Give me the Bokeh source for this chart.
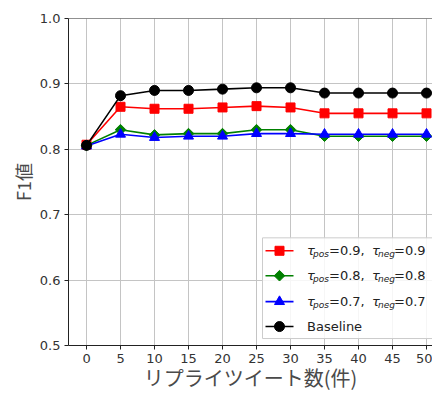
import math
from bokeh.plotting import figure
from bokeh.models import Range1d, FixedTicker, PrintfTickFormatter, Span
from bokeh.core.properties import value
from bokeh.embed import file_html
from bokeh.resources import INLINE

# ---- data ----
reply_counts = [0, 5, 10, 15, 20, 25, 30, 35, 40, 45, 50]
f1_tau09 = [0.807, 0.865, 0.862, 0.862, 0.864, 0.866, 0.864, 0.855, 0.855, 0.855, 0.855]
f1_tau08 = [0.806, 0.830, 0.822, 0.824, 0.824, 0.830, 0.830, 0.820, 0.820, 0.820, 0.820]
f1_tau07 = [0.805, 0.823, 0.818, 0.820, 0.820, 0.824, 0.824, 0.823, 0.823, 0.823, 0.823]
f1_baseline = [0.806, 0.882, 0.890, 0.890, 0.892, 0.894, 0.894, 0.886, 0.886, 0.886, 0.886]
tau_values = ["0.9", "0.8", "0.7"]
x_ticks = [0, 5, 10, 15, 20, 25, 30, 35, 40, 45, 50]
y_ticks = [0.5, 0.6, 0.7, 0.8, 0.9, 1.0]
x_label = "リプライツイート数(件)"
y_label = "F1値"

# ---- layout ----
W, H = 432, 394
BL, BT, BB, BR = 68, 18, 48, 0
X0, X1 = -2.65, 50.88
Y0, Y1 = 0.5, 1.0
FL, FR = BL, W - BR
FT, FB = BT, H - BB

def dx(cx):
    return X0 + (cx - FL) * (X1 - X0) / (FR - FL)

def dy(cy):
    return Y0 + (FB - cy) * (Y1 - Y0) / (FB - FT)

p = figure(width=W, height=H, output_backend="svg", toolbar_location=None,
           x_range=Range1d(X0, X1), y_range=Range1d(Y0, Y1),
           min_border_left=BL, min_border_top=BT, min_border_bottom=BB,
           min_border_right=BR)
p.outline_line_color = None
p.background_fill_color = "white"
p.border_fill_color = "white"

for ax in (p.xaxis[0], p.yaxis[0]):
    ax.axis_line_color = "#222222"
    ax.major_tick_line_color = "#222222"
    ax.major_tick_out = 4
    ax.major_tick_in = 0
    ax.minor_tick_line_color = None
    ax.major_label_text_font = "DejaVu Sans"
    ax.major_label_text_font_size = "13px"
    ax.major_label_text_color = "#333333"
    ax.major_label_standoff = 4
    ax.axis_label_text_font = "Noto Sans CJK JP"
    ax.axis_label_text_font_style = "normal"
    ax.axis_label_text_color = "#4a4a4a"

p.xaxis.axis_label_text_font_size = "20px"
p.yaxis.axis_label_text_font_size = "18px"
p.xaxis.ticker = FixedTicker(ticks=x_ticks)
p.yaxis.ticker = FixedTicker(ticks=y_ticks)
p.yaxis.formatter = PrintfTickFormatter(format="%.1f")
p.xaxis.axis_label = x_label
p.yaxis.axis_label = y_label
p.xaxis.axis_label_standoff = -3
p.yaxis.axis_label_standoff = 1

p.grid.grid_line_color = "#c4c4c4"
p.grid.grid_line_width = 1

# top spine
p.add_layout(Span(location=Y1, dimension="width", line_color="#222222", line_width=1))

# (values, colour, marker, size, angle)
series = [
    (f1_tau09, "#ff0000", "square", 9, 0.0),
    (f1_tau08, "#008000", "square", 7.5, math.pi / 4),
    (f1_tau07, "#0000ff", "triangle", 10, 0.0),
    (f1_baseline, "#000000", "circle", 10, 0.0),
]
for ys, col, mk, sz, ang in series:
    p.line(reply_counts, ys, line_color=col, line_width=1.6)
    p.scatter(reply_counts, ys, marker=mk, size=sz, angle=ang,
              fill_color=col, line_color=col)

# ---- legend (hand-built for subscripts) ----
lb_left = FR - 170
p.quad(left=[dx(lb_left)], right=[dx(FR + 20)], top=[dy(FB - 108)], bottom=[dy(FB - 7)],
       fill_color="white", fill_alpha=0.85, line_color="#cccccc", line_width=1)

row_cy = [FB - 95, FB - 70, FB - 44, FB - 19]
for i, (ys, col, mk, sz, ang) in enumerate(series):
    cy = row_cy[i]
    yy = dy(cy)
    p.line([dx(lb_left + 3), dx(lb_left + 31)], [yy, yy], line_color=col, line_width=1.6)
    p.scatter([dx(lb_left + 17)], [yy], marker=mk, size=sz, angle=ang,
              fill_color=col, line_color=col)
    tx = dx(lb_left + 44.5)
    if i < 3:
        tv = tau_values[i]
        ysub = dy(cy + 3.5)
        common = dict(text_baseline="middle", text_align="left", text_color="#222222")
        p.text([tx], [yy], text=["τ"], text_font=value("DejaVu Sans"),
               text_font_style="italic", text_font_size="13px", **common)
        p.text([tx], [ysub], text=["pos"], x_offset=6, text_font=value("DejaVu Sans"),
               text_font_style="italic", text_font_size="9px", **common)
        p.text([tx], [yy], text=["=" + tv + ","], x_offset=22, text_font=value("DejaVu Sans"),
               text_font_size="13px", **common)
        p.text([tx], [yy], text=["τ"], x_offset=65, text_font=value("DejaVu Sans"),
               text_font_style="italic", text_font_size="13px", **common)
        p.text([tx], [ysub], text=["neg"], x_offset=71, text_font=value("DejaVu Sans"),
               text_font_style="italic", text_font_size="9px", **common)
        p.text([tx], [yy], text=["=" + tv], x_offset=87, text_font=value("DejaVu Sans"),
               text_font_size="13px", **common)
    else:
        p.text([tx], [yy], text=["Baseline"], text_font=value("DejaVu Sans"),
               text_font_size="13px", text_baseline="middle", text_align="left",
               text_color="#222222")

open("out.html", "w").write(file_html(p, INLINE))
